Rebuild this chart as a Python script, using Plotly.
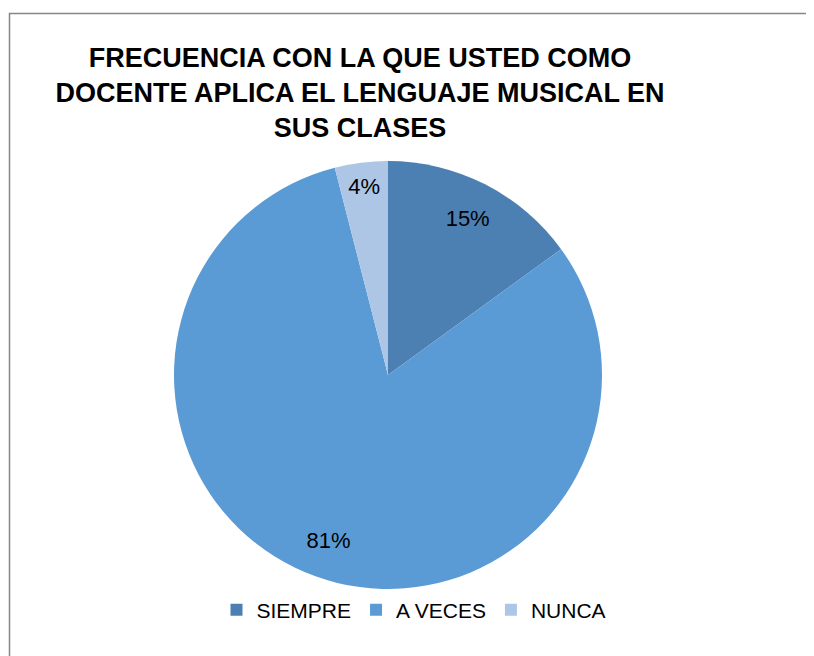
import plotly.graph_objects as go

categories = ["SIEMPRE", "A VECES", "NUNCA"]
values = [15, 81, 4]
colors = ["#4C80B3", "#5B9BD5", "#ADC6E6"]
title_lines = ["FRECUENCIA CON LA QUE USTED COMO",
               "DOCENTE APLICA EL LENGUAJE MUSICAL EN",
               "SUS CLASES"]

# page has an 8px body margin; figure fills the rest of the 814x656 window
OFF = 8
W, H = 814 - OFF, 656 - OFF
cx, cy, r = 388 - OFF, 375 - OFF, 214
dom_x = [(cx - r) / W, (cx + r) / W]
dom_y = [(H - cy - r) / H, (H - cy + r) / H]
FONT = "Liberation Sans, Arial, sans-serif"

fig = go.Figure()
fig.add_trace(go.Pie(
    labels=categories, values=values, sort=False, direction="clockwise", rotation=0,
    marker=dict(colors=colors, line=dict(width=0)),
    textinfo="none", domain=dict(x=dom_x, y=dom_y), showlegend=True,
    hoverinfo="label+percent",
))
fig.add_trace(go.Pie(
    labels=categories, values=values, sort=False, direction="clockwise", rotation=0,
    hole=0.64,
    marker=dict(colors=["rgba(0,0,0,0)"] * 3, line=dict(width=0)),
    textinfo="percent", texttemplate="%{percent:.0%}",
    textposition="inside", insidetextorientation="horizontal",
    textfont=dict(family=FONT, size=22, color="#000000"),
    domain=dict(x=dom_x, y=dom_y), showlegend=False, hoverinfo="skip",
))

fig.update_layout(
    width=W, height=H,
    margin=dict(l=0, r=0, t=0, b=0),
    paper_bgcolor="white", plot_bgcolor="white",
    title=dict(text="<br>".join(title_lines), x=(360 - OFF) / W, xanchor="center",
               y=1 - 59 / H, yanchor="top",
               font=dict(family=FONT, size=27, color="#000000", weight="bold")),
    legend=dict(orientation="h", x=(414 - OFF) / W, xanchor="center",
                y=(656 - 610) / H, yanchor="middle",
                font=dict(family=FONT, size=21, color="#000000"),
                itemsizing="constant"),
    shapes=[dict(type="rect", xref="paper", yref="paper",
                 x0=(9.5 - OFF) / W, x1=1.02, y0=-0.02, y1=1 - (13.5 - OFF) / H,
                 line=dict(color="#868686", width=1.5), fillcolor="rgba(0,0,0,0)")],
)

fig.write_html("out.html")
